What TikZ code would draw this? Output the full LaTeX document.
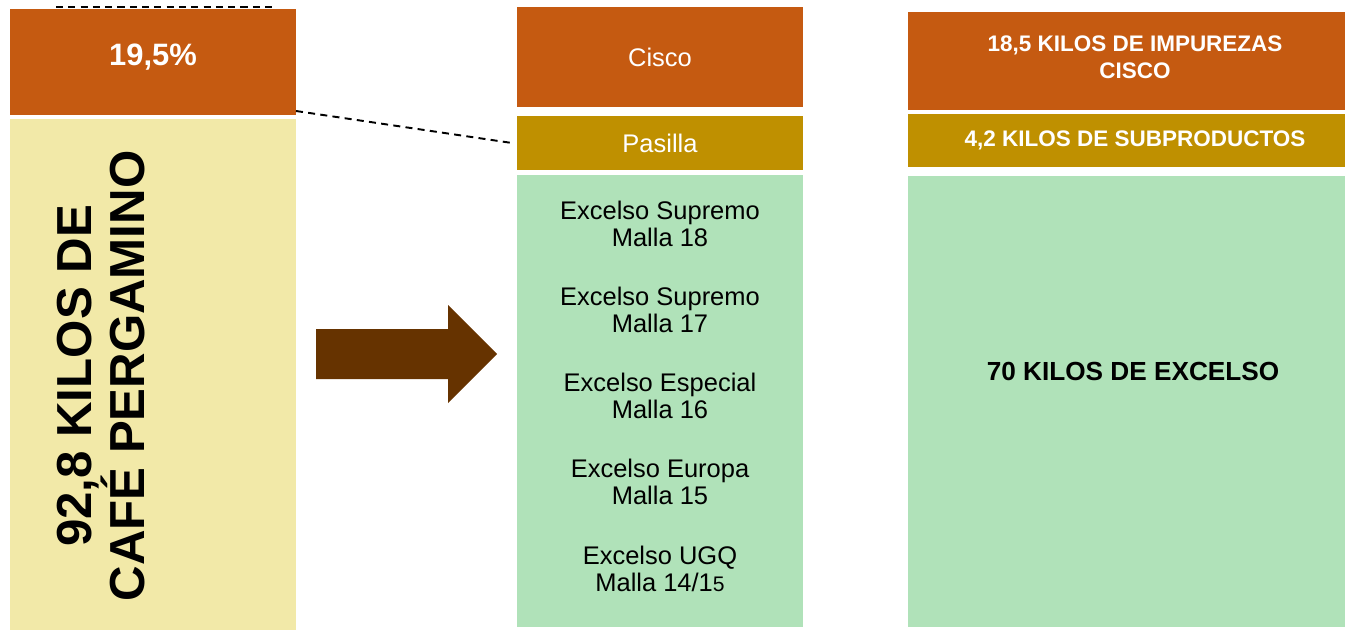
\documentclass[tikz,border=0pt]{standalone}
\usepackage{fontspec}
\setmainfont{Liberation Sans}
\usepackage{xcolor}
\definecolor{cisco}{HTML}{C55A11}
\definecolor{pasilla}{HTML}{BF9000}
\definecolor{pergamino}{HTML}{F2E9A8}
\definecolor{excelso}{HTML}{B0E2B9}
\definecolor{flecha}{HTML}{663300}
\usepackage{tikz}
\usetikzlibrary{calc}

\begin{document}
\begin{tikzpicture}[x=0.02cm, y=-0.02cm,
  box/.style={inner sep=0pt, outer sep=0pt},
  link/.style={line width=1.1pt, dash pattern=on 4pt off 3pt},
  midtext/.style={font=\fontsize{14.5}{15.5}\selectfont, align=center},
  righttext/.style={font=\fontsize{12.8}{15.3}\selectfont\bfseries, text=white, align=center}]
  \useasboundingbox (0,0) rectangle (1345,629);

  % --- Left column: cafe pergamino ---
  \node[box, fill=cisco, minimum width=5.72cm, minimum height=2.12cm] (pct) at (153,62) {};
  \node[font=\fontsize{17.6}{20}\selectfont\bfseries, text=white] (pcttext) at (153,57) {19,5\%};
  \node[box, fill=pergamino, minimum width=5.72cm, minimum height=10.3cm] (perg) at (153,376) {};
  \node[rotate=90, align=center, font=\fontsize{28}{28.5}\selectfont\bfseries] (pergtext) at (101,376)
    {92,8 KILOS DE\\CAFÉ PERGAMINO};
  \coordinate (topa) at (56,7);
  \coordinate (topb) at (273,7);
  \draw[link] (topa) -- (topb);

  % --- Arrow ---
  \fill[flecha] (316,329) -- (448,329) -- (448,305) -- (497,354) -- (448,403) -- (448,379) -- (316,379) -- cycle;

  % --- Middle column: clasificacion ---
  \node[box, fill=cisco, minimum width=5.72cm, minimum height=2cm, midtext, text=white] (cisco) at (660,57) {Cisco};
  \node[box, fill=pasilla, minimum width=5.72cm, minimum height=1.08cm, midtext, text=white] (pasilla) at (660,143) {Pasilla};
  \node[box, fill=excelso, minimum width=5.72cm, minimum height=9.04cm] (malla) at (660,401) {};
  \foreach \y/\t in {224/{Excelso Supremo\\Malla 18},
                     310/{Excelso Supremo\\Malla 17},
                     396/{Excelso Especial\\Malla 16},
                     482/{Excelso Europa\\Malla 15},
                     569/{Excelso UGQ\\Malla 14/1{\fontsize{12}{12}\selectfont 5}}}
    \node[midtext] at (660,\y) {\t};

  % dashed link from the 19,5% to pasilla
  \draw[link] ($(pct.south east)+(0,-4)$) -- ($(pasilla.west)+(-5,0)$);

  % --- Right column: resultados ---
  \node[box, fill=cisco, minimum width=9.08cm, minimum height=1.96cm] (impurezas) at (1135,61) {};
  \node[righttext] (impurezastext) at (1135,57) {18,5 KILOS DE IMPUREZAS\\CISCO};
  \node[box, fill=pasilla, minimum width=9.08cm, minimum height=1.06cm, righttext] (subprod) at (1135,140.5)
    {4,2 KILOS DE SUBPRODUCTOS};
  \node[box, fill=excelso, minimum width=9.08cm, minimum height=9.02cm] (total) at (1135,401.5) {};
  \node[font=\fontsize{14.9}{17}\selectfont\bfseries] (totaltext) at (1133,371) {70 KILOS DE EXCELSO};
\end{tikzpicture}
\end{document}
